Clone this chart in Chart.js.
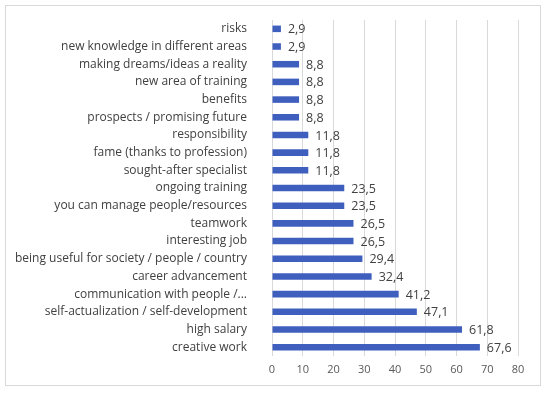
<!DOCTYPE html>
<html>
<head>
<meta charset="utf-8">
<script src="https://cdn.jsdelivr.net/npm/chart.js@4"></script>
<style>
  html, body { margin: 0; padding: 0; background: #fff; }
  #wrap { width: 547px; height: 394px; }
</style>
</head>
<body>
<div id="wrap"><canvas id="chart" width="547" height="394"></canvas></div>
<script>
// categories top to bottom
const categories = [
  'risks',
  'new knowledge in different areas',
  'making dreams/ideas a reality',
  'new area of training',
  'benefits',
  'prospects / promising future',
  'responsibility',
  'fame (thanks to profession)',
  'sought-after specialist',
  'ongoing training',
  'you can manage people/resources',
  'teamwork',
  'interesting job',
  'being useful for society / people / country',
  'career advancement',
  'communication with people /...',
  'self-actualization / self-development',
  'high salary',
  'creative work'
];
const values = [2.9, 2.9, 8.8, 8.8, 8.8, 8.8, 11.8, 11.8, 11.8, 23.5, 23.5, 26.5, 26.5, 29.4, 32.4, 41.2, 47.1, 61.8, 67.6];
const xTicks = [0, 10, 20, 30, 40, 50, 60, 70, 80];

const fontFamily = '"Open Sans", "Liberation Sans", sans-serif';

// outer frame like the office chart border
const frame = {
  id: 'frame',
  beforeDraw(chart) {
    const ctx = chart.ctx;
    ctx.save();
    ctx.fillStyle = '#fff';
    ctx.fillRect(0, 0, chart.width, chart.height);
    ctx.strokeStyle = '#d9d9d9';
    ctx.lineWidth = 1;
    ctx.strokeRect(5.5, 5.5, 535, 380);
    ctx.restore();
  }
};

// value labels at the end of each bar, decimal comma
const barLabels = {
  id: 'barLabels',
  afterDatasetsDraw(chart) {
    const ctx = chart.ctx;
    const meta = chart.getDatasetMeta(0);
    ctx.save();
    ctx.font = '12.5px ' + fontFamily;
    ctx.fillStyle = '#404040';
    ctx.textAlign = 'left';
    ctx.textBaseline = 'middle';
    meta.data.forEach((bar, i) => {
      ctx.fillText(values[i].toFixed(1).replace('.', ','), bar.x + 7, bar.y + 1);
    });
    ctx.restore();
  }
};

new Chart(document.getElementById('chart'), {
  type: 'bar',
  data: {
    labels: categories,
    datasets: [{
      data: values,
      backgroundColor: '#3f5fbf',
      borderWidth: 0,
      categoryPercentage: 1,
      barPercentage: 0.37
    }]
  },
  options: {
    indexAxis: 'y',
    responsive: false,
    animation: false,
    layout: { autoPadding: false, padding: { top: 20, right: 29, left: 0, bottom: 0 } },
    plugins: { legend: { display: false }, tooltip: { enabled: false } },
    scales: {
      x: {
        min: 0,
        max: 80,
        afterBuildTicks(scale) { scale.ticks = xTicks.map(v => ({ value: v })); },
        afterFit(scale) { scale.height = 38; },
        grid: { color: '#d9d9d9', drawTicks: false },
        border: { display: false },
        ticks: { color: '#595959', padding: 7, font: { family: fontFamily, size: 11 } }
      },
      y: {
        afterFit(scale) { scale.width = 272; scale.paddingTop = 0; scale.paddingBottom = 0; },
        grid: { display: false, drawTicks: false },
        border: { display: false },
        ticks: { color: '#404040', padding: 25, autoSkip: false, font: { family: fontFamily, size: 12 } }
      }
    }
  },
  plugins: [frame, barLabels]
});
</script>
</body>
</html>
